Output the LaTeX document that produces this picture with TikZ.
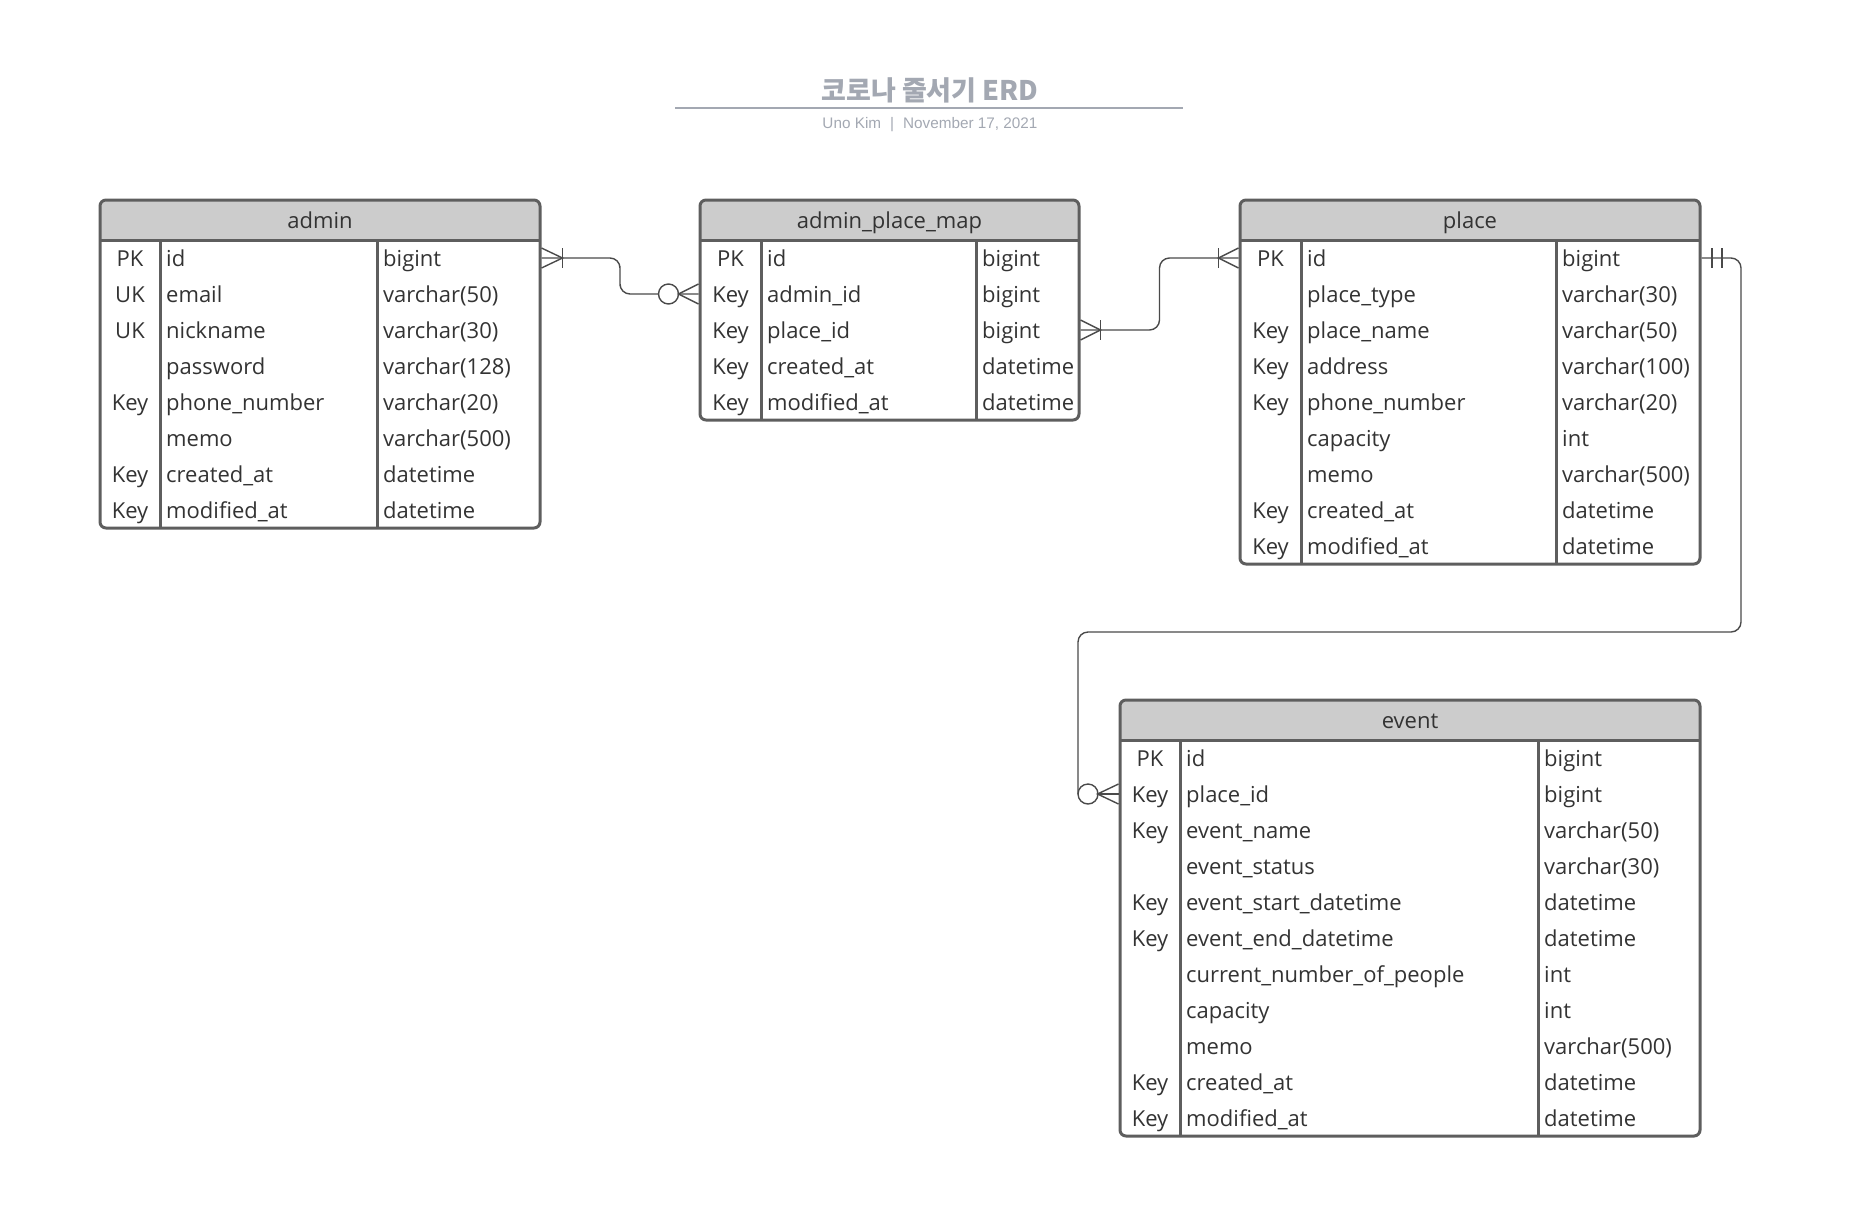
\documentclass[tikz,border=0pt]{standalone}
\usepackage{fontspec}
\setmainfont{Open Sans}
\newfontfamily\krfont{Noto Sans CJK KR}
\newfontfamily\subfont{Liberation Sans}
\usetikzlibrary{calc}
\definecolor{framec}{HTML}{5E5E5E}
\definecolor{hdrc}{HTML}{CCCCCC}
\definecolor{txtc}{HTML}{333333}
\definecolor{linec}{HTML}{4A4A4A}
\definecolor{titlec}{HTML}{A3A8B2}
\tikzset{
  tabframe/.style={draw=framec, line width=3pt, rounded corners=6pt, inner sep=0pt},
  tabline/.style={draw=framec, line width=3pt},
  hdrtext/.style={font=\fontsize{22}{24}\selectfont, text=txtc, anchor=base, inner sep=0pt},
  keytext/.style={font=\fontsize{22}{24}\selectfont, text=txtc, anchor=base, inner sep=0pt},
  celltext/.style={font=\fontsize{22}{24}\selectfont, text=txtc, anchor=base west, inner sep=0pt},
  rel/.style={draw=linec, line width=1.4pt, rounded corners=10pt},
  foot/.style={draw=linec, line width=1.4pt},
}
\newcommand{\erdtable}[8]{%
  \def\tL{#2}\def\tT{#3}\def\tR{#4}\def\tA{#5}\def\tB{#6}%
  \pgfmathsetmacro\tBot{#3+40+36*#7}%
  \pgfmathsetmacro\tW{#4-#2}%
  \pgfmathsetmacro\tH{\tBot-#3}%
  \fill[hdrc,rounded corners=6pt] (#2,#3) rectangle (#4,{#3+40});
  \fill[hdrc] (#2,{#3+20}) rectangle (#4,{#3+40});
  \draw[tabline] (#2,{#3+40}) -- (#4,{#3+40});
  \draw[tabline] (#5,{#3+40}) -- (#5,\tBot);
  \draw[tabline] (#6,{#3+40}) -- (#6,\tBot);
  \node[tabframe, minimum width=\tW pt, minimum height=\tH pt] (#1) at ({(#2+#4)/2},{(#3+\tBot)/2}) {};
  \node[hdrtext] (#1-title) at ({(#2+#4)/2},{#3+28.5}) {#8};
}
\newcommand{\erdrow}[5]{%
  \pgfmathsetmacro\rY{\tT+40+36*(#2-1)+18}%
  \coordinate (#1-r#2) at (\tL,\rY);
  \node[keytext] (#1-k#2) at ({(\tL+\tA)/2},{\rY+8.5}) {#3};
  \node[celltext] (#1-n#2) at ({\tA+6},{\rY+8.5}) {#4};
  \node[celltext] (#1-t#2) at ({\tB+6},{\rY+8.5}) {#5};
}
\begin{document}
\begin{tikzpicture}[x=1pt,y=-1pt]
\useasboundingbox (0,0) rectangle (1855,1216);
% title
\node[font=\krfont\bfseries\fontsize{27}{29}\selectfont, text=titlec, anchor=base, inner sep=0pt] (title) at (930,100) {코로나 줄서기 ERD};
\coordinate (ul1) at (675,108);
\coordinate (ul2) at (1183,108);
\draw[titlec, line width=2pt] (ul1) -- (ul2);
\node[font=\subfont\fontsize{15.3}{17}\selectfont, text=titlec, anchor=base, inner sep=0pt] (subtitle) at (930,128) {Uno Kim\hspace{9pt}|\hspace{9pt}November 17, 2021};

% admin
\erdtable{admin}{100}{200}{540}{160}{377}{8}{admin}
\erdrow{admin}{1}{PK}{id}{bigint}
\erdrow{admin}{2}{UK}{email}{varchar(50)}
\erdrow{admin}{3}{UK}{nickname}{varchar(30)}
\erdrow{admin}{4}{}{password}{varchar(128)}
\erdrow{admin}{5}{Key}{phone\_number}{varchar(20)}
\erdrow{admin}{6}{}{memo}{varchar(500)}
\erdrow{admin}{7}{Key}{created\_at}{datetime}
\erdrow{admin}{8}{Key}{modified\_at}{datetime}

% admin_place_map
\erdtable{map}{700}{200}{1079}{761}{976}{5}{admin\_place\_map}
\erdrow{map}{1}{PK}{id}{bigint}
\erdrow{map}{2}{Key}{admin\_id}{bigint}
\erdrow{map}{3}{Key}{place\_id}{bigint}
\erdrow{map}{4}{Key}{created\_at}{datetime}
\erdrow{map}{5}{Key}{modified\_at}{datetime}

% place
\erdtable{place}{1240}{200}{1700}{1301}{1556}{9}{place}
\erdrow{place}{1}{PK}{id}{bigint}
\erdrow{place}{2}{}{place\_type}{varchar(30)}
\erdrow{place}{3}{Key}{place\_name}{varchar(50)}
\erdrow{place}{4}{Key}{address}{varchar(100)}
\erdrow{place}{5}{Key}{phone\_number}{varchar(20)}
\erdrow{place}{6}{}{capacity}{int}
\erdrow{place}{7}{}{memo}{varchar(500)}
\erdrow{place}{8}{Key}{created\_at}{datetime}
\erdrow{place}{9}{Key}{modified\_at}{datetime}

% event
\erdtable{event}{1120}{700}{1700}{1180}{1538}{11}{event}
\erdrow{event}{1}{PK}{id}{bigint}
\erdrow{event}{2}{Key}{place\_id}{bigint}
\erdrow{event}{3}{Key}{event\_name}{varchar(50)}
\erdrow{event}{4}{}{event\_status}{varchar(30)}
\erdrow{event}{5}{Key}{event\_start\_datetime}{datetime}
\erdrow{event}{6}{Key}{event\_end\_datetime}{datetime}
\erdrow{event}{7}{}{current\_number\_of\_people}{int}
\erdrow{event}{8}{}{capacity}{int}
\erdrow{event}{9}{}{memo}{varchar(500)}
\erdrow{event}{10}{Key}{created\_at}{datetime}
\erdrow{event}{11}{Key}{modified\_at}{datetime}

% relation 1: admin.id -- admin_place_map.admin_id
\coordinate (a1) at (admin.east |- admin-r1);
\coordinate (m1) at (map.west |- map-r2);
\draw[rel] (a1) -| ($(a1)!0.5!(m1)$) |- (m1);
\draw[foot] ($(a1)+(0,-10)$) -- ($(a1)+(21,0)$) -- ($(a1)+(0,10)$);
\draw[foot] ($(a1)+(21,-10)$) -- ($(a1)+(21,10)$);
\draw[foot, fill=white] ($(m1)+(-30,0)$) circle (10pt);
\draw[foot] ($(m1)+(0,-10)$) -- ($(m1)+(-20,0)$) -- ($(m1)+(0,10)$);

% relation 2: admin_place_map.place_id -- place.id
\coordinate (m2) at (map.east |- map-r3);
\coordinate (p1) at (place.west |- place-r1);
\draw[rel] (m2) -| ($(m2)!0.5!(p1)$) |- (p1);
\draw[foot] ($(m2)+(0,-10)$) -- ($(m2)+(20,0)$) -- ($(m2)+(0,10)$);
\draw[foot] ($(m2)+(20,-10)$) -- ($(m2)+(20,10)$);
\draw[foot] ($(p1)+(0,-10)$) -- ($(p1)+(-20,0)$) -- ($(p1)+(0,10)$);
\draw[foot] ($(p1)+(-20,-10)$) -- ($(p1)+(-20,10)$);

% relation 3: place.id -- event.place_id
\coordinate (p2) at (place.east |- place-r1);
\coordinate (e2) at (event.west |- event-r2);
\coordinate (c3) at ($(e2)+(-40.5,0)$);
\coordinate (turn) at ($(p2)+(39.5,374)$);
\draw[rel] (p2) -| (turn) -| (c3);
\draw[foot] ($(p2)+(10.5,-10)$) -- ($(p2)+(10.5,10)$);
\draw[foot] ($(p2)+(20.5,-10)$) -- ($(p2)+(20.5,10)$);
\draw[foot, fill=white] ($(c3)+(10,0)$) circle (10pt);
\draw[foot] ($(c3)+(20,0)$) -- (e2);
\draw[foot] ($(e2)+(0,-10)$) -- ($(e2)+(-21,0)$) -- ($(e2)+(0,10)$);
\end{tikzpicture}
\end{document}
